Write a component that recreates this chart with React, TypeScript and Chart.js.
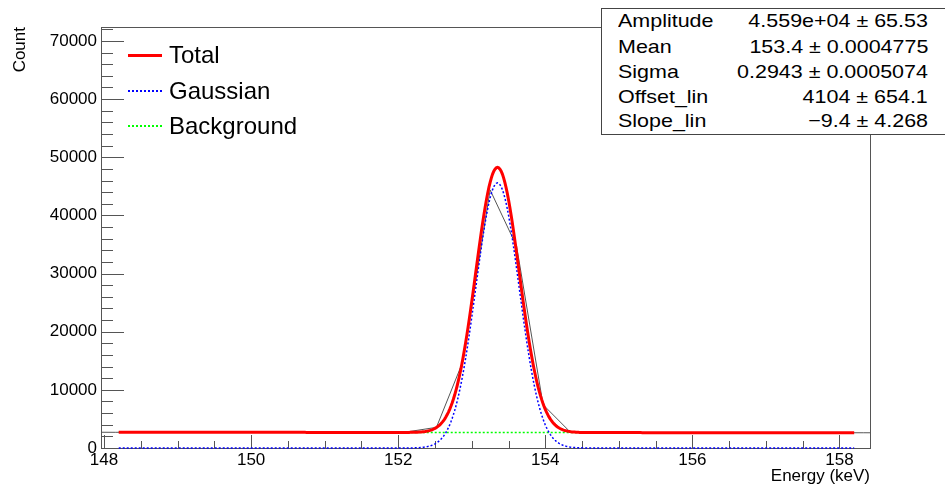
import React, { useEffect, useRef } from "react";
import { Chart, registerables } from "chart.js";

Chart.register(...registerables);

// ---- Data ----
const binEnergies = [
  147.80, 148.16, 148.53, 148.89, 149.25, 149.62, 149.98, 150.34, 150.70, 151.07,
  151.43, 151.79, 152.16, 152.52, 152.88, 153.25, 153.61, 153.97, 154.33, 154.70,
  155.06, 155.42, 155.79, 156.15, 156.51, 156.88, 157.24, 157.60, 157.96, 158.33, 158.69,
];
const binCounts = [
  2710, 2700, 2720, 2690, 2710, 2700, 2690, 2700, 2680, 2700,
  2690, 2680, 2850, 3550, 14880, 44380, 34700, 7440, 2860, 2640,
  2660, 2650, 2640, 2650, 2630, 2640, 2620, 2630, 2620, 2620, 2610,
];

// Fit parameters (from the stats box)
const fitRange = [148.2, 158.2];
const amplitude = 45590;
const mean = 153.35;
const sigma = 0.2943;
const offsetLin = 4104;
const slopeLin = -9.4;

const xTickValues = [148, 150, 152, 154, 156, 158];
const yTickValues = [0, 10000, 20000, 30000, 40000, 50000, 60000, 70000];
const xLimits = [147.959, 158.415];
const yLimits = [0, 72400];
const xMinorStep = 0.5;
const yMinorStep = 2000;

const statNames = ["Amplitude", "Mean", "Sigma", "Offset_lin", "Slope_lin"];
const statValues = [
  "4.559e+04 \u00b1 65.53",
  "153.4 \u00b1 0.0004775",
  "0.2943 \u00b1 0.0005074",
  "4104 \u00b1 654.1",
  "\u22129.4 \u00b1 4.268",
];
const legendLabels = ["Total", "Gaussian", "Background"];
const xTitle = "Energy (keV)";
const yTitle = "Count";

const FONT = '"Liberation Sans", Arial, Helvetica, sans-serif';

function gauss(e: number) {
  return amplitude * Math.exp(-0.5 * ((e - mean) / sigma) ** 2);
}
function bg(e: number) {
  return offsetLin + slopeLin * e;
}

function sampleFit(fn: (e: number) => number) {
  const pts: { x: number; y: number }[] = [];
  const n = 600;
  for (let i = 0; i <= n; i++) {
    const e = fitRange[0] + ((fitRange[1] - fitRange[0]) * i) / n;
    pts.push({ x: e, y: fn(e) });
  }
  return pts;
}

const rootAxes = {
  id: "rootAxes",
  beforeDatasetsDraw(chart: any) {
    const { ctx, chartArea: a, scales } = chart;
    const x = scales.x;
    const y = scales.y;
    ctx.save();
    ctx.strokeStyle = "#555";
    ctx.lineWidth = 1;
    ctx.strokeRect(Math.round(a.left) + 0.5, Math.round(a.top) + 0.5, Math.round(a.right - a.left), Math.round(a.bottom - a.top));
    ctx.beginPath();
    // x ticks (inside, pointing up)
    const x0 = Math.ceil(x.min / xMinorStep) * xMinorStep;
    for (let v = x0; v <= x.max + 1e-9; v += xMinorStep) {
      const major = xTickValues.some((t) => Math.abs(t - v) < 1e-6);
      const px = Math.round(x.getPixelForValue(v)) + 0.5;
      const len = major ? 13 : 7;
      ctx.moveTo(px, a.bottom);
      ctx.lineTo(px, a.bottom - len);
    }
    // y ticks (inside, pointing right)
    for (let v = 0; v <= y.max + 1e-9; v += yMinorStep) {
      const major = yTickValues.some((t) => Math.abs(t - v) < 1e-6);
      const py = Math.round(y.getPixelForValue(v)) + 0.5;
      const len = major ? 23 : 12;
      ctx.moveTo(a.left, py);
      ctx.lineTo(a.left + len, py);
    }
    ctx.stroke();
    ctx.restore();
  },
};

export default function App() {
  const ref = useRef<HTMLCanvasElement>(null);

  useEffect(() => {
    const histData = binEnergies.map((e, i) => ({ x: e, y: binCounts[i] }));
    const chart = new Chart(ref.current as HTMLCanvasElement, {
      type: "scatter",
      data: {
        datasets: [
          {
            label: "Total",
            data: sampleFit((e) => gauss(e) + bg(e)),
            showLine: true,
            borderColor: "#ff0000",
            borderWidth: 3,
            pointRadius: 0,
            order: 1,
            clip: false as any,
          },
          {
            label: "Gaussian",
            data: sampleFit(gauss),
            showLine: true,
            borderColor: "#0000ff",
            borderWidth: 1.5,
            borderDash: [2, 2],
            pointRadius: 0,
            order: 2,
            clip: false as any,
          },
          {
            label: "Data",
            data: histData,
            showLine: true,
            borderColor: "#555555",
            borderWidth: 1,
            pointRadius: 0,
            order: 3,
          },
          {
            label: "Background",
            data: sampleFit(bg),
            showLine: true,
            borderColor: "#00ff00",
            borderWidth: 1.5,
            borderDash: [2, 2],
            pointRadius: 0,
            order: 4,
            clip: false as any,
          },
        ],
      },
      options: {
        responsive: false,
        devicePixelRatio: 1,
        animation: false,
        layout: { padding: { top: 27, right: 75, left: 0, bottom: 0 } },
        plugins: {
          legend: { display: false },
          tooltip: { enabled: false },
        },
        scales: {
          x: {
            type: "linear",
            min: xLimits[0],
            max: xLimits[1],
            grid: { display: false, drawTicks: false },
            border: { display: false },
            ticks: {
              font: { family: FONT, size: 17 },
              color: "#000",
              padding: 2,
              maxRotation: 0,
              autoSkip: false,
              callback: (v: any) => String(v),
            },
            afterBuildTicks: (s: any) => {
              s.ticks = xTickValues.map((v) => ({ value: v }));
            },
            afterFit: (s: any) => {
              s.height = 40;
            },
            title: {
              display: true,
              text: xTitle,
              align: "end",
              color: "#000",
              font: { family: FONT, size: 17 },
              padding: { top: 0, bottom: 1 },
            },
          },
          y: {
            type: "linear",
            min: yLimits[0],
            max: yLimits[1],
            grid: { display: false, drawTicks: false },
            border: { display: false },
            ticks: {
              font: { family: FONT, size: 17 },
              color: "#000",
              padding: 4,
              autoSkip: false,
              callback: (v: any) => String(v),
            },
            afterBuildTicks: (s: any) => {
              s.ticks = yTickValues.map((v) => ({ value: v }));
            },
            afterFit: (s: any) => {
              s.width = 101;
            },
            title: {
              display: true,
              text: yTitle,
              align: "end",
              color: "#000",
              font: { family: FONT, size: 17 },
              padding: { top: 10.5, bottom: 0 },
            },
          },
        },
      } as any,
      plugins: [rootAxes],
    });
    return () => chart.destroy();
  }, []);

  const legendCenters = [55, 90.5, 125.5];
  const legendLine = [
    { borderTop: "3px solid #ff0000", top: 53.5 },
    { borderTop: "2px dotted #0000ff", top: 89.5 },
    { borderTop: "2px dotted #00ff00", top: 124.5 },
  ];
  const statCenters = [20.3, 46.5, 71, 96, 120.5];

  return (
    <div
      style={{
        position: "fixed",
        left: 0,
        top: 0,
        width: 945,
        height: 488,
        background: "#fff",
        overflow: "hidden",
        fontFamily: FONT,
        color: "#000",
      }}
    >
      <canvas
        ref={ref}
        width={945}
        height={488}
        style={{ position: "absolute", left: 0, top: 0, width: 945, height: 488 }}
      />
      {legendLabels.map((lab, i) => (
        <React.Fragment key={lab}>
          <div
            style={{
              position: "absolute",
              left: 128,
              width: 34,
              height: 0,
              top: legendLine[i].top,
              borderTop: legendLine[i].borderTop,
            }}
          />
          <div
            style={{
              position: "absolute",
              left: 169,
              top: legendCenters[i] - 12,
              fontSize: 24,
              lineHeight: "24px",
              whiteSpace: "nowrap",
            }}
          >
            {lab}
          </div>
        </React.Fragment>
      ))}
      <div
        style={{
          position: "absolute",
          left: 601,
          top: 8,
          width: 400,
          height: 125,
          border: "1px solid #444",
          background: "#fff",
        }}
      />
      {statNames.map((name, i) => (
        <React.Fragment key={name}>
          <div
            style={{
              position: "absolute",
              left: 618,
              top: statCenters[i] - 9.5,
              fontSize: 19,
              lineHeight: "19px",
              whiteSpace: "nowrap",
              transform: "scaleX(1.13)",
              transformOrigin: "left center",
            }}
          >
            {name}
          </div>
          <div
            style={{
              position: "absolute",
              right: 945 - 928,
              top: statCenters[i] - 9.5,
              fontSize: 19,
              lineHeight: "19px",
              whiteSpace: "nowrap",
              textAlign: "right",
              transform: "scaleX(1.13)",
              transformOrigin: "right center",
            }}
          >
            {statValues[i]}
          </div>
        </React.Fragment>
      ))}
    </div>
  );
}
